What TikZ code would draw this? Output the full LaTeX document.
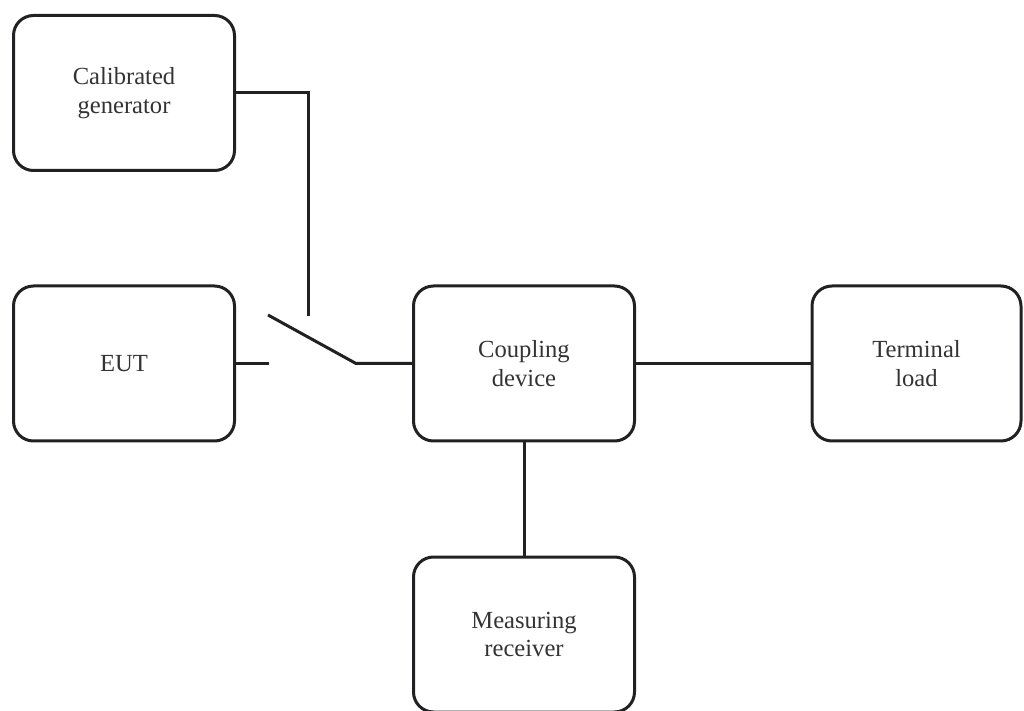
\documentclass[tikz,border=0pt]{standalone}
\usepackage{fontspec}
\setmainfont{Liberation Serif}
\usetikzlibrary{positioning}
\definecolor{linegray}{rgb}{.13,.13,.14}
\definecolor{textgray}{rgb}{.2,.2,.2}

\begin{document}
\begin{tikzpicture}[x=0.5pt, y=-0.5pt, line width=1.5pt, draw=linegray,
	   blk/.style={draw=linegray, rounded corners=10pt, minimum width=110.5pt, minimum height=77.5pt,
	     align=center, text=textgray, font=\fontsize{12.3}{14.4}\selectfont, inner sep=0pt}]
	  \useasboundingbox (0,0) rectangle (1024,711);
	  \node[blk] (gen) at (124,93) {Calibrated\\ generator};
	  \node[blk] (eut) at (124,363.5) {EUT};
	  \node[blk] (cpl) at (524,363.5) {Coupling\\ device};
	  \node[blk, minimum width=104.5pt] (term) at (916.5,363.5) {Terminal\\ load};
	  \node[blk] (meas) at (524,634.5) {Measuring\\ receiver};
	  % switch contacts
	  \coordinate (sw top) at (308,316);
	  \coordinate (sw in) at (269,363.5);
	  \coordinate (blade) at (268,315);
	  \coordinate (pivot) at (356,363.5);
	  \draw[linegray] (gen.east) -| (sw top);
	  \draw[linegray] (eut.east) -- (sw in);
	  \draw[linegray] (blade) -- (pivot) -- (cpl.west);
	  \draw[linegray] (cpl.east) -- (term.west);
	  \draw[linegray] (cpl.south) -- (meas.north);
	\end{tikzpicture}
\end{document}
